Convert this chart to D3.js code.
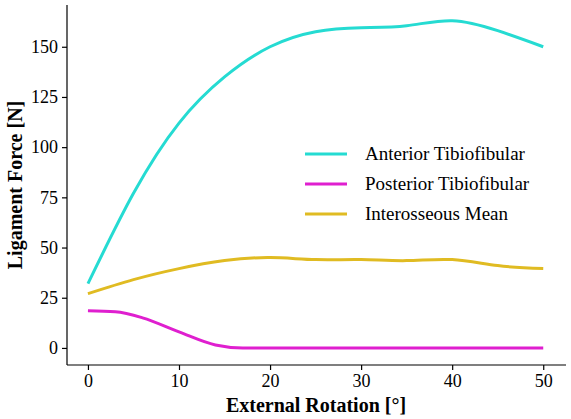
<!DOCTYPE html>
<html><head><meta charset="utf-8">
<script src="https://cdn.jsdelivr.net/npm/d3@7"></script>
<style>body{margin:0;background:#fff}text{font-family:"Liberation Serif","Times New Roman",serif}</style>
</head><body><svg id="c" width="571" height="419"></svg>
<script>
var xVals = [0, 5, 10, 15, 20, 25, 30, 35, 40, 45, 50];
var anterior = [32, 77, 112, 135, 150, 157.5, 159.5, 160.5, 163, 158, 150];
var postX = [0, 3, 6, 10, 14, 17, 20, 30, 40, 50];
var posterior = [18.5, 18, 15, 8, 1.5, 0, 0, 0, 0, 0];
var interX = [0, 5, 10, 15, 20, 25, 30, 35, 40, 45, 50];
var interosseous = [27, 34, 39.5, 43.5, 45, 44, 44, 43.5, 44, 41, 39.5];
var xTicks = [0, 10, 20, 30, 40, 50];
var yTicks = [0, 25, 50, 75, 100, 125, 150];

var svg = d3.select("#c");
var x = d3.scaleLinear().domain([-2.3, 52.5]).range([67, 566]);
var y = d3.scaleLinear().domain([-8.5, 170.8]).range([365, 5]);

var series = [
  {name: "Anterior Tibiofibular", xs: xVals, ys: anterior, color: "#25dbd2", curve: d3.curveNatural},
  {name: "Posterior Tibiofibular", xs: postX, ys: posterior, color: "#df1fcf", curve: d3.curveMonotoneX},
  {name: "Interosseous Mean", xs: interX, ys: interosseous, color: "#e0bb22", curve: d3.curveNatural}
];
series.forEach(function(s){
  var line = d3.line().curve(s.curve).x(d => x(d[0])).y(d => y(d[1]));
  svg.append("path").attr("d", line(s.xs.map((v,i)=>[v, s.ys[i]])))
    .attr("fill","none").attr("stroke", s.color).attr("stroke-width", 3);
});

var gx = svg.append("g").attr("transform","translate(0,365)")
  .call(d3.axisBottom(x).tickValues(xTicks).tickSize(5).tickPadding(4));
var gy = svg.append("g").attr("transform","translate(67,0)")
  .call(d3.axisLeft(y).tickValues(yTicks).tickSize(5).tickPadding(4));
[gx, gy].forEach(function(g){
  g.selectAll("text").attr("font-size", 18).attr("fill","#000")
    .style("font-family","Liberation Serif");
  g.selectAll("line,path").attr("stroke","#000").attr("stroke-width",1.2);
});
gx.select(".domain").attr("d","M67,0H566");
gy.select(".domain").attr("d","M0,5V365");

svg.append("text").attr("x", 316).attr("y", 412).attr("text-anchor","middle")
  .attr("font-size", 20).attr("font-weight","bold").text("External Rotation [°]");
svg.append("text").attr("transform","translate(22,185) rotate(-90)")
  .attr("text-anchor","middle").attr("font-size", 20).attr("font-weight","bold")
  .text("Ligament Force [N]");

var leg = svg.append("g");
series.forEach(function(s, i){
  var yy = 154 + i*30;
  leg.append("line").attr("x1",305).attr("x2",347).attr("y1",yy).attr("y2",yy)
    .attr("stroke", s.color).attr("stroke-width",3);
  leg.append("text").attr("x",365).attr("y",yy+6).attr("font-size",19).text(s.name);
});
</script></body></html>
